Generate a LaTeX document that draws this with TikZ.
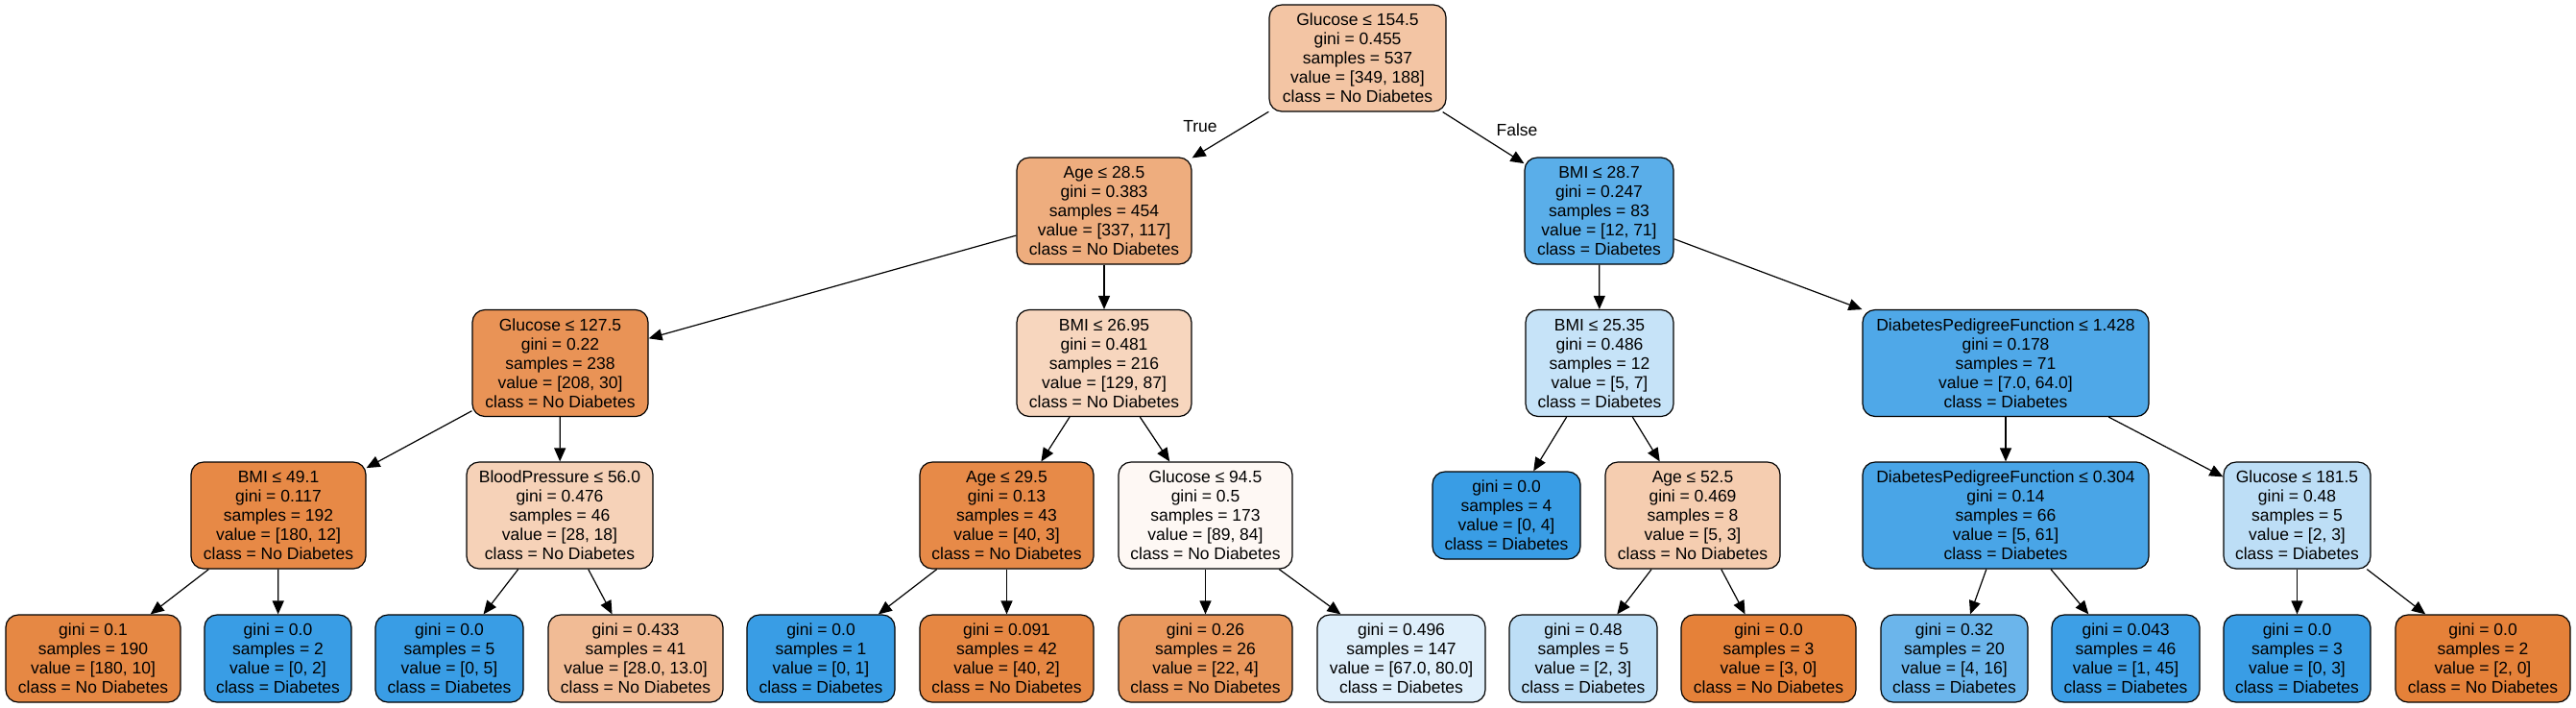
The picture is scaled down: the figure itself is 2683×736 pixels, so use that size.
\documentclass[tikz,border=0pt]{standalone}
\usepackage{fontspec}
\setmainfont{Liberation Sans}
\usetikzlibrary{arrows.meta}
\definecolor{cor}{HTML}{E58139}
\definecolor{cbl}{HTML}{399DE5}
\tikzset{
  nd/.style 2 args={draw=black, line width=0.6pt, rounded corners=6.5pt, rectangle,
    minimum width=#1pt, minimum height=#2pt, inner sep=0pt, align=center,
    font=\fontsize{8.75pt}{10pt}\selectfont},
  inner/.style={nd={#1}{55.5}},
  leaf/.style={nd={#1}{45.5}},
  edge/.style={draw=black, line width=0.6pt, -{Triangle[length=7pt,width=6pt]}},
  elab/.style={font=\fontsize{8.75pt}{10pt}\selectfont, inner sep=0pt}
}
\begin{document}
\begin{tikzpicture}[x=0.5pt,y=-0.5pt]
\useasboundingbox (0,0) rectangle (2683,736);
% level 0
\node[inner=92, fill=cor!46.1] (n0) at (1414,60.5) {Glucose ≤ 154.5\\gini = 0.455\\samples = 537\\value = [349, 188]\\class = No Diabetes};
% level 1
\node[inner=91, fill=cor!65.3] (n1) at (1150,219.5) {Age ≤ 28.5\\gini = 0.383\\samples = 454\\value = [337, 117]\\class = No Diabetes};
\node[inner=77.5, fill=cbl!83.1] (n2) at (1665.5,219.5) {BMI ≤ 28.7\\gini = 0.247\\samples = 83\\value = [12, 71]\\class = Diabetes};
% level 2
\node[inner=91.5, fill=cor!85.6] (n3) at (583.5,378) {Glucose ≤ 127.5\\gini = 0.22\\samples = 238\\value = [208, 30]\\class = No Diabetes};
\node[inner=91, fill=cor!32.6] (n4) at (1150,378) {BMI ≤ 26.95\\gini = 0.481\\samples = 216\\value = [129, 87]\\class = No Diabetes};
\node[inner=77, fill=cbl!28.6] (n5) at (1666,378) {BMI ≤ 25.35\\gini = 0.486\\samples = 12\\value = [5, 7]\\class = Diabetes};
\node[inner=149, fill=cbl!89.1] (n6) at (2089,378) {DiabetesPedigreeFunction ≤ 1.428\\gini = 0.178\\samples = 71\\value = [7.0, 64.0]\\class = Diabetes};
% level 3
\node[inner=91, fill=cor!93.3] (n7) at (290,536.5) {BMI ≤ 49.1\\gini = 0.117\\samples = 192\\value = [180, 12]\\class = No Diabetes};
\node[inner=97, fill=cor!35.7] (n8) at (583,536.5) {BloodPressure ≤ 56.0\\gini = 0.476\\samples = 46\\value = [28, 18]\\class = No Diabetes};
\node[inner=90.5, fill=cor!92.5] (n9) at (1048.5,536.5) {Age ≤ 29.5\\gini = 0.13\\samples = 43\\value = [40, 3]\\class = No Diabetes};
\node[inner=90.5, fill=cor!5.6] (n10) at (1255.5,536.5) {Glucose ≤ 94.5\\gini = 0.5\\samples = 173\\value = [89, 84]\\class = No Diabetes};
\node[leaf=77, fill=cbl] (n11) at (1569,536.5) {gini = 0.0\\samples = 4\\value = [0, 4]\\class = Diabetes};
\node[inner=91, fill=cor!40] (n12) at (1763,536.5) {Age ≤ 52.5\\gini = 0.469\\samples = 8\\value = [5, 3]\\class = No Diabetes};
\node[inner=149, fill=cbl!91.8] (n13) at (2089,536.5) {DiabetesPedigreeFunction ≤ 0.304\\gini = 0.14\\samples = 66\\value = [5, 61]\\class = Diabetes};
\node[inner=76.5, fill=cbl!33.3] (n14) at (2392.5,536.5) {Glucose ≤ 181.5\\gini = 0.48\\samples = 5\\value = [2, 3]\\class = Diabetes};
% level 4
\node[leaf=91, fill=cor!94.4] (l1) at (97,685.5) {gini = 0.1\\samples = 190\\value = [180, 10]\\class = No Diabetes};
\node[leaf=76.5, fill=cbl] (l2) at (289.5,685.5) {gini = 0.0\\samples = 2\\value = [0, 2]\\class = Diabetes};
\node[leaf=77, fill=cbl] (l3) at (468,685.5) {gini = 0.0\\samples = 5\\value = [0, 5]\\class = Diabetes};
\node[leaf=91, fill=cor!53.6] (l4) at (662,685.5) {gini = 0.433\\samples = 41\\value = [28.0, 13.0]\\class = No Diabetes};
\node[leaf=77, fill=cbl] (l5) at (855,685.5) {gini = 0.0\\samples = 1\\value = [0, 1]\\class = Diabetes};
\node[leaf=90.5, fill=cor!95] (l6) at (1048.5,685.5) {gini = 0.091\\samples = 42\\value = [40, 2]\\class = No Diabetes};
\node[leaf=90.5, fill=cor!81.8] (l7) at (1255.5,685.5) {gini = 0.26\\samples = 26\\value = [22, 4]\\class = No Diabetes};
\node[leaf=87.5, fill=cbl!16.3] (l8) at (1459.5,685.5) {gini = 0.496\\samples = 147\\value = [67.0, 80.0]\\class = Diabetes};
\node[leaf=77, fill=cbl!33.3] (l9) at (1649,685.5) {gini = 0.48\\samples = 5\\value = [2, 3]\\class = Diabetes};
\node[leaf=91, fill=cor] (l10) at (1842,685.5) {gini = 0.0\\samples = 3\\value = [3, 0]\\class = No Diabetes};
\node[leaf=76.5, fill=cbl!75] (l11) at (2035.5,685.5) {gini = 0.32\\samples = 20\\value = [4, 16]\\class = Diabetes};
\node[leaf=77, fill=cbl!97.8] (l12) at (2214,685.5) {gini = 0.043\\samples = 46\\value = [1, 45]\\class = Diabetes};
\node[leaf=76.5, fill=cbl] (l13) at (2392.5,685.5) {gini = 0.0\\samples = 3\\value = [0, 3]\\class = Diabetes};
\node[leaf=91, fill=cor] (l14) at (2586,685.5) {gini = 0.0\\samples = 2\\value = [2, 0]\\class = No Diabetes};
% edges
\draw[edge] (n0) -- (n1);
\draw[edge] (n0) -- (n2);
\draw[edge] (n1) -- (n3);
\draw[edge] (n1) -- (n4);
\draw[edge] (n2) -- (n5);
\draw[edge] (n2) -- (n6);
\draw[edge] (n3) -- (n7);
\draw[edge] (n3) -- (n8);
\draw[edge] (n4) -- (n9);
\draw[edge] (n4) -- (n10);
\draw[edge] (n5) -- (n11);
\draw[edge] (n5) -- (n12);
\draw[edge] (n6) -- (n13);
\draw[edge] (n6) -- (n14);
\draw[edge] (n7) -- (l1);
\draw[edge] (n7) -- (l2);
\draw[edge] (n8) -- (l3);
\draw[edge] (n8) -- (l4);
\draw[edge] (n9) -- (l5);
\draw[edge] (n9) -- (l6);
\draw[edge] (n10) -- (l7);
\draw[edge] (n10) -- (l8);
\draw[edge] (n12) -- (l9);
\draw[edge] (n12) -- (l10);
\draw[edge] (n13) -- (l11);
\draw[edge] (n13) -- (l12);
\draw[edge] (n14) -- (l13);
\draw[edge] (n14) -- (l14);
% edge labels
\node[elab] (tlab) at (1250,132) {True};
\node[elab] (flab) at (1580,135) {False};
\end{tikzpicture}
\end{document}
